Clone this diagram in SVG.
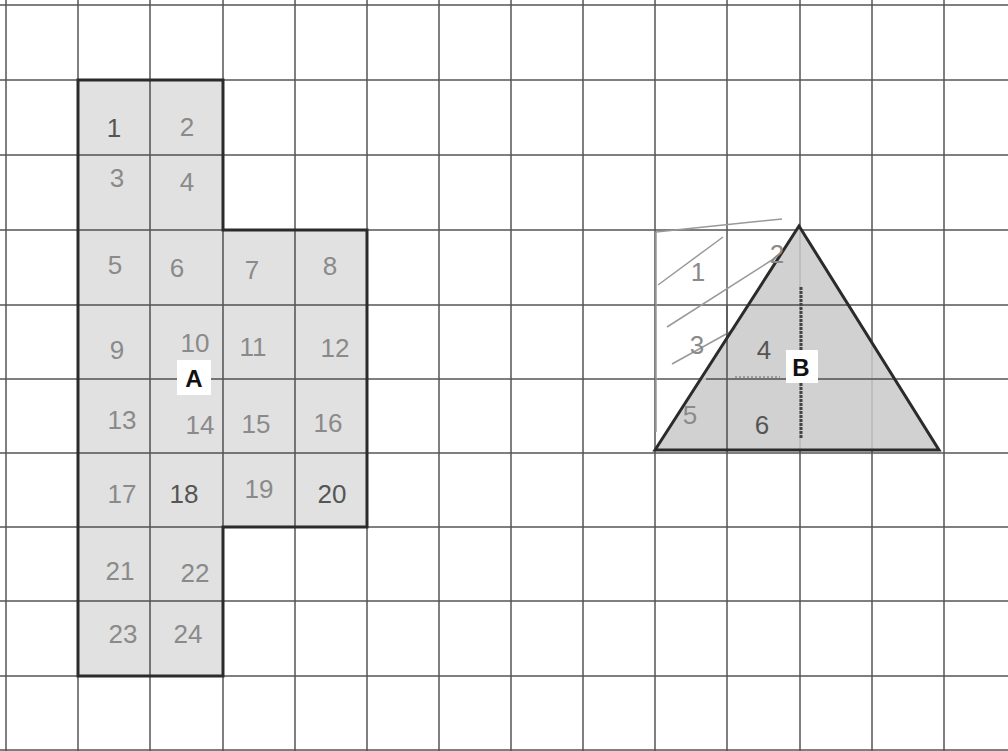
<svg xmlns="http://www.w3.org/2000/svg" width="1008" height="751" viewBox="0 0 1008 751">
<style>
.grid line{stroke:#555;stroke-width:1.5}
.outline{stroke:#2b2b2b;stroke-width:3;stroke-linejoin:miter}
.num{font-family:"Liberation Sans",Arial,sans-serif;font-size:26px;fill:#8a8a8a;text-anchor:middle;dominant-baseline:central}
.dark{fill:#555}
.lbl{font-family:"Liberation Sans",Arial,sans-serif;font-size:24px;font-weight:bold;fill:#111;text-anchor:middle;dominant-baseline:central}
.pencil{stroke:#999;stroke-width:1.5;fill:none}
</style>
<rect width="1008" height="751" fill="#fff"/>
<g id="grid" class="grid">
<line x1="6" y1="0" x2="6" y2="751"/><line x1="78" y1="0" x2="78" y2="751"/><line x1="150" y1="0" x2="150" y2="751"/><line x1="223" y1="0" x2="223" y2="751"/><line x1="295" y1="0" x2="295" y2="751"/><line x1="367" y1="0" x2="367" y2="751"/><line x1="439" y1="0" x2="439" y2="751"/><line x1="511" y1="0" x2="511" y2="751"/><line x1="583" y1="0" x2="583" y2="751"/><line x1="655" y1="0" x2="655" y2="751"/><line x1="727" y1="0" x2="727" y2="751"/><line x1="800" y1="0" x2="800" y2="751"/><line x1="872" y1="0" x2="872" y2="751"/><line x1="944" y1="0" x2="944" y2="751"/>
<line x1="0" y1="5" x2="1008" y2="5"/><line x1="0" y1="80" x2="1008" y2="80"/><line x1="0" y1="155" x2="1008" y2="155"/><line x1="0" y1="230" x2="1008" y2="230"/><line x1="0" y1="305" x2="1008" y2="305"/><line x1="0" y1="379" x2="1008" y2="379"/><line x1="0" y1="453" x2="1008" y2="453"/><line x1="0" y1="527" x2="1008" y2="527"/><line x1="0" y1="601" x2="1008" y2="601"/><line x1="0" y1="676" x2="1008" y2="676"/><line x1="0" y1="750" x2="1008" y2="750"/>
</g>
<g id="shapeA">
<path d="M78,80 H223 V230 H367 V527 H223 V676 H78 Z" fill="#dedede" fill-opacity="0.9"/>
<g class="grid"><line x1="150" y1="80" x2="150" y2="676"/><line x1="223" y1="230" x2="223" y2="527"/><line x1="295" y1="230" x2="295" y2="527"/><line x1="78" y1="155" x2="223" y2="155"/><line x1="78" y1="230" x2="223" y2="230"/><line x1="78" y1="305" x2="367" y2="305"/><line x1="78" y1="379" x2="367" y2="379"/><line x1="78" y1="453" x2="367" y2="453"/><line x1="78" y1="527" x2="223" y2="527"/><line x1="78" y1="601" x2="223" y2="601"/></g>
<path class="outline" d="M78,80 H223 V230 H367 V527 H223 V676 H78 Z" fill="none"/>
<text class="num dark" x="114" y="128">1</text><text class="num" x="187" y="127">2</text>
<text class="num" x="117" y="178">3</text><text class="num" x="187" y="182">4</text>
<text class="num" x="115" y="265">5</text><text class="num" x="177" y="268">6</text><text class="num" x="252" y="270">7</text><text class="num" x="330" y="266">8</text>
<text class="num" x="117" y="350">9</text><text class="num" x="195" y="343">10</text><text class="num" x="253" y="347">11</text><text class="num" x="335" y="348">12</text>
<text class="num" x="122" y="420">13</text><text class="num" x="200" y="425">14</text><text class="num" x="256" y="424">15</text><text class="num" x="328" y="423">16</text>
<text class="num" x="122" y="494">17</text><text class="num dark" x="184" y="494">18</text><text class="num" x="259" y="489">19</text><text class="num dark" x="332" y="494">20</text>
<text class="num" x="120" y="571">21</text><text class="num" x="195" y="573">22</text>
<text class="num" x="123" y="634">23</text><text class="num" x="188" y="634">24</text>
<rect x="177" y="360" width="34" height="35" fill="#fff"/>
<text class="lbl" x="194" y="378">A</text>
</g>
<g id="shapeB">
<path class="pencil" d="M656,232 L782,219 M656,232 V432 M658,285 L723,237 M667,327 L775,258 M672,364 L737,328"/>
<text class="num" x="698" y="272">1</text>
<path d="M655,450 L799,226 L939,450 Z" fill="#c9c9c9" fill-opacity="0.85"/>
<g class="grid"><line x1="727" y1="305" x2="727" y2="450"/><line x1="706" y1="379" x2="896" y2="379"/><line x1="749" y1="305" x2="849" y2="305"/></g>
<line x1="801" y1="287" x2="801" y2="438" stroke="#444" stroke-width="3" stroke-dasharray="3,1"/>
<line x1="735" y1="377" x2="780" y2="377" stroke="#666" stroke-width="1" stroke-dasharray="2,2"/>
<path class="outline" d="M655,450 L799,226 L939,450 Z" fill="none"/>
<text class="num" x="697" y="345">3</text>
<text class="num" x="690" y="415">5</text>
<text class="num" x="777" y="254">2</text>
<text class="num dark" x="764" y="350">4</text>
<text class="num dark" x="762" y="425">6</text>
<rect x="786" y="350" width="32" height="33" fill="#fff"/>
<text class="lbl" x="801" y="367">B</text>
</g>
</svg>
